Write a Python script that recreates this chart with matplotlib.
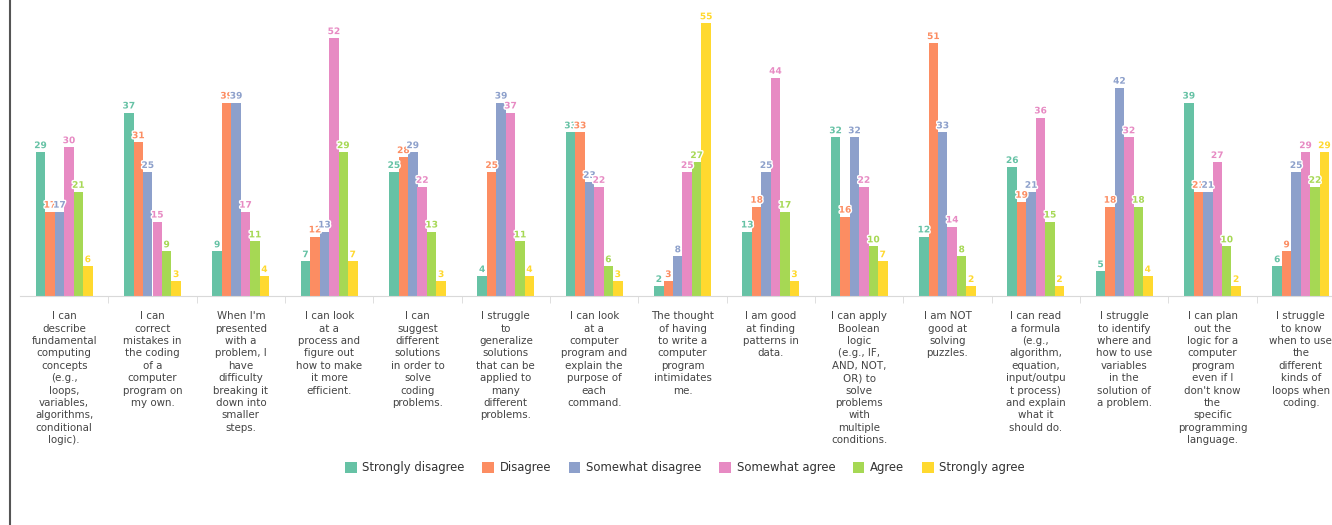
import numpy as np
import matplotlib
matplotlib.use('Agg')
import matplotlib.pyplot as plt
import matplotlib.patheffects as pe

# Afirmações (categorias), já quebradas em linhas como no gráfico
categories = [
    "I can\ndescribe\nfundamental\ncomputing\nconcepts\n(e.g.,\nloops,\nvariables,\nalgorithms,\nconditional\nlogic).",
    "I can\ncorrect\nmistakes in\nthe coding\nof a\ncomputer\nprogram on\nmy own.",
    "When I'm\npresented\nwith a\nproblem, I\nhave\ndifficulty\nbreaking it\ndown into\nsmaller\nsteps.",
    "I can look\nat a\nprocess and\nfigure out\nhow to make\nit more\nefficient.",
    "I can\nsuggest\ndifferent\nsolutions\nin order to\nsolve\ncoding\nproblems.",
    "I struggle\nto\ngeneralize\nsolutions\nthat can be\napplied to\nmany\ndifferent\nproblems.",
    "I can look\nat a\ncomputer\nprogram and\nexplain the\npurpose of\neach\ncommand.",
    "The thought\nof having\nto write a\ncomputer\nprogram\nintimidates\nme.",
    "I am good\nat finding\npatterns in\ndata.",
    "I can apply\nBoolean\nlogic\n(e.g., IF,\nAND, NOT,\nOR) to\nsolve\nproblems\nwith\nmultiple\nconditions.",
    "I am NOT\ngood at\nsolving\npuzzles.",
    "I can read\na formula\n(e.g.,\nalgorithm,\nequation,\ninput/outpu\nt process)\nand explain\nwhat it\nshould do.",
    "I struggle\nto identify\nwhere and\nhow to use\nvariables\nin the\nsolution of\na problem.",
    "I can plan\nout the\nlogic for a\ncomputer\nprogram\neven if I\ndon't know\nthe\nspecific\nprogramming\nlanguage.",
    "I struggle\nto know\nwhen to use\nthe\ndifferent\nkinds of\nloops when\ncoding.",
]

# Respostas por nível de concordância
strongly_disagree = [29, 37, 9, 7, 25, 4, 33, 2, 13, 32, 12, 26, 5, 39, 6]
disagree          = [17, 31, 39, 12, 28, 25, 33, 3, 18, 16, 51, 19, 18, 21, 9]
somewhat_disagree = [17, 25, 39, 13, 29, 39, 23, 8, 25, 32, 33, 21, 42, 21, 25]
somewhat_agree    = [30, 15, 17, 52, 22, 37, 22, 25, 44, 22, 14, 36, 32, 27, 29]
agree             = [21, 9, 11, 29, 13, 11, 6, 27, 17, 10, 8, 15, 18, 10, 22]
strongly_agree    = [6, 3, 4, 7, 3, 4, 3, 55, 3, 7, 2, 2, 4, 2, 29]

series_names = ['Strongly disagree', 'Disagree', 'Somewhat disagree',
                'Somewhat agree', 'Agree', 'Strongly agree']
series = [strongly_disagree, disagree, somewhat_disagree,
          somewhat_agree, agree, strongly_agree]
colors = ['#66c2a5', '#fc8d62', '#8da0cb', '#e78ac3', '#a6d854', '#ffd92f']

W, H = 1332, 525
fig = plt.figure(figsize=(W / 100, H / 100), dpi=100)

# eixo um pouco mais largo que a figura (o original está cortado à direita)
ax = fig.add_axes([20 / W, (H - 296) / H, 1325 / W, 296 / H])

x = np.arange(len(categories))
bw = 0.107
for i, (name, vals, c) in enumerate(zip(series_names, series, colors)):
    pos = x + (i - 2.5) * bw
    bars = ax.bar(pos, vals, width=bw, color=c, label=name, linewidth=0)
    for b, v in zip(bars, vals):
        t = ax.annotate(str(v), (b.get_x() + b.get_width() / 2, v),
                        xytext=(0, 1.5), textcoords='offset points',
                        ha='center', va='bottom', fontsize=6.5,
                        fontweight='bold', color=c)
        t.set_path_effects([pe.withStroke(linewidth=2, foreground='white')])

ax.set_xlim(-0.5, len(categories) - 0.5)
ax.set_ylim(0, 59.7)

for s in ['top', 'right', 'left']:
    ax.spines[s].set_visible(False)
ax.spines['bottom'].set_color('#d9d9d9')
ax.set_yticks([])

ax.set_xticks(x)
ax.set_xticklabels(categories, fontsize=7.4, color='#444444', linespacing=1.3,
                   va='top', ha='center')
ax.tick_params(axis='x', which='major', length=0, pad=11)
ax.set_xticks(x[:-1] + 0.5, minor=True)
ax.tick_params(axis='x', which='minor', length=5, color='#d9d9d9')

fig.legend(loc='center', bbox_to_anchor=(685 / W, 1 - 468 / H), ncol=6,
           frameon=False, fontsize=8.4, handlelength=1, handleheight=1,
           handletextpad=0.5, columnspacing=1.5, labelcolor='#333333')

# linha vertical escura à esquerda
fig.add_artist(plt.Line2D([10 / W, 10 / W], [0, 1], color='#555555', linewidth=1.5))

plt.savefig('out.png', dpi=100)
